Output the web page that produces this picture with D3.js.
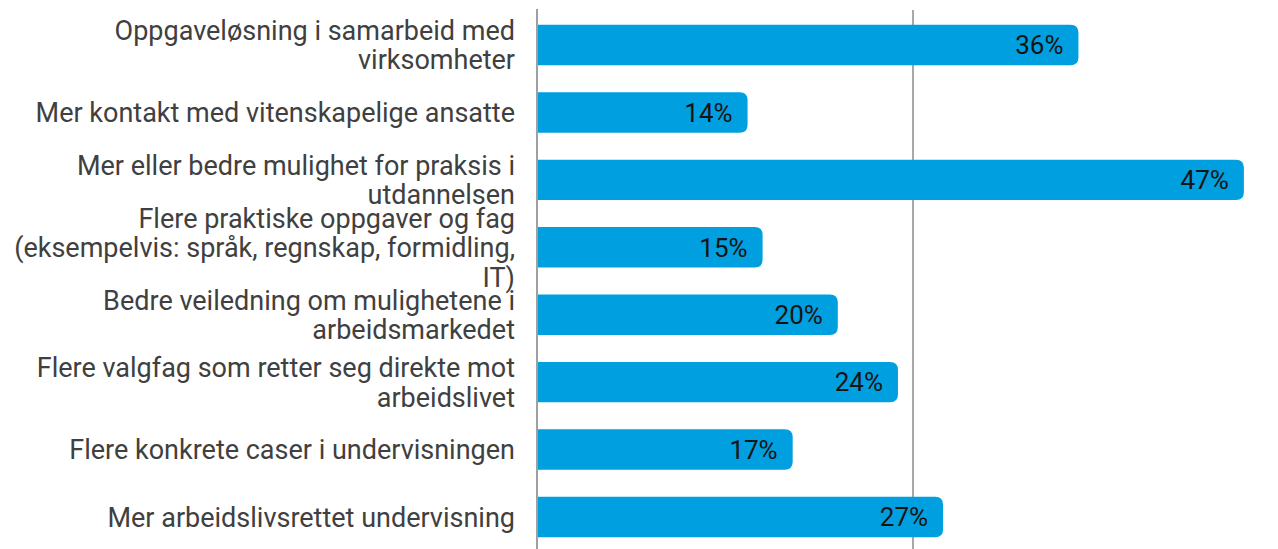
<!DOCTYPE html>
<html>
<head>
<meta charset="utf-8">
<script src="https://cdn.jsdelivr.net/npm/d3@7"></script>
<style>
  html, body { margin: 0; padding: 0; background: #fff; }
  svg { display: block; }
</style>
</head>
<body>
<svg id="chart" width="1278" height="549"></svg>
<script>
const categories = [
  ["Oppgaveløsning i samarbeid med", "virksomheter"],
  ["Mer kontakt med vitenskapelige ansatte"],
  ["Mer eller bedre mulighet for praksis i", "utdannelsen"],
  ["Flere praktiske oppgaver og fag", "(eksempelvis: språk, regnskap, formidling,", "IT)"],
  ["Bedre veiledning om mulighetene i", "arbeidsmarkedet"],
  ["Flere valgfag som retter seg direkte mot", "arbeidslivet"],
  ["Flere konkrete caser i undervisningen"],
  ["Mer arbeidslivsrettet undervisning"]
];
const values = [36, 14, 47, 15, 20, 24, 17, 27];
const gridTicks = [25];

const svg = d3.select("#chart");
const W = 1278, H = 549;
const x0 = 537;

const x = d3.scaleLinear().domain([0, 50]).range([x0, x0 + 752]);
const y = d3.scaleBand()
  .domain(d3.range(categories.length))
  .range([11.3, 550.7])
  .paddingInner(0.4)
  .paddingOuter(0.2);

// grid lines
svg.append("g").selectAll("line").data(gridTicks).join("line")
  .attr("x1", d => x(d)).attr("x2", d => x(d))
  .attr("y1", 10).attr("y2", H)
  .attr("stroke", "#a8a8a8").attr("stroke-width", 2);

// bars with rounded right corners
const r = 8;
function barPath(x1, x2, y1, h) {
  const rr = Math.min(r, (x2 - x1) / 2, h / 2);
  return `M${x1},${y1}H${x2 - rr}Q${x2},${y1} ${x2},${y1 + rr}V${y1 + h - rr}Q${x2},${y1 + h} ${x2 - rr},${y1 + h}H${x1}Z`;
}
svg.append("g").selectAll("path").data(values).join("path")
  .attr("d", (d, i) => barPath(x(0), x(d), y(i), y.bandwidth()))
  .attr("fill", "#009fdf");

// axis line
svg.append("line")
  .attr("x1", x0).attr("x2", x0)
  .attr("y1", 9).attr("y2", H)
  .attr("stroke", "#a0a0a0").attr("stroke-width", 2);

// value labels
svg.append("g").selectAll("text").data(values).join("text")
  .attr("x", d => x(d) - 15)
  .attr("y", (d, i) => y(i) + y.bandwidth() / 2)
  .attr("dy", "0.36em")
  .attr("text-anchor", "end")
  .attr("font-family", "Roboto, sans-serif")
  .attr("font-size", 26)
  .attr("fill", "#141414")
  .text(d => d + "%");

// category labels
const lineH = 29.5;
const lab = svg.append("g").selectAll("text").data(categories).join("text")
  .attr("text-anchor", "end")
  .attr("font-family", "Roboto, sans-serif")
  .attr("font-size", 27)
  .attr("fill", "#404040");
lab.each(function(lines, i) {
  const cy = y(i) + y.bandwidth() / 2;
  const start = cy - (lines.length - 1) * lineH / 2;
  d3.select(this).selectAll("tspan").data(lines).join("tspan")
    .attr("x", 515)
    .attr("y", (l, j) => start + j * lineH)
    .attr("dy", "0.36em")
    .text(l => l);
});
</script>
</body>
</html>
